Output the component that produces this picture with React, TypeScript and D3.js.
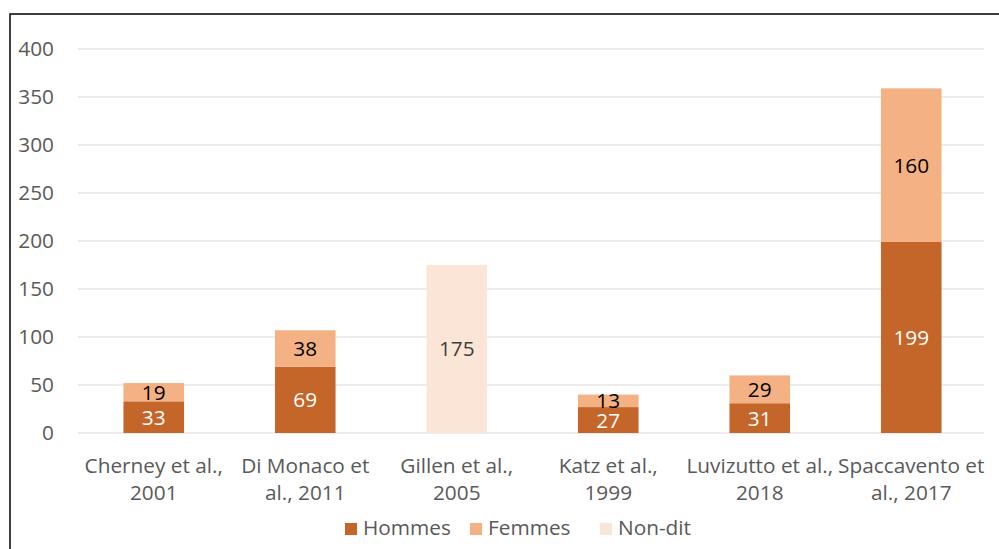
import * as d3 from "d3";

const WIDTH = 999;
const HEIGHT = 549;
const MARGIN = { top: 49, right: 12, bottom: 116, left: 78 };

const categories = [
  ["Cherney et al.,", "2001"],
  ["Di Monaco et", "al., 2011"],
  ["Gillen et al.,", "2005"],
  ["Katz et al.,", "1999"],
  ["Luvizutto et al.,", "2018"],
  ["Spaccavento et", "al., 2017"],
];
const hommes = [33, 69, 0, 27, 31, 199];
const femmes = [19, 38, 0, 13, 29, 160];
const nonDit = [0, 0, 175, 0, 0, 0];
const yTicks = [0, 50, 100, 150, 200, 250, 300, 350, 400];

const SERIES = [
  { name: "Hommes", values: hommes, color: "#C4652A", labelColor: "#FFFFFF" },
  { name: "Femmes", values: femmes, color: "#F4B183", labelColor: "#000000" },
  { name: "Non-dit", values: nonDit, color: "#FBE5D6", labelColor: "#404040" },
];

const FONT = "'Open Sans', sans-serif";
const FS = 20.8;

export default function App() {
  const boundsWidth = WIDTH - MARGIN.left - MARGIN.right;
  const boundsHeight = HEIGHT - MARGIN.top - MARGIN.bottom;

  const keys = categories.map((c) => c.join(" "));
  const xScale = d3.scaleBand().domain(keys).range([0, boundsWidth]).paddingInner(0.6).paddingOuter(0.3);
  const yScale = d3.scaleLinear().domain([0, 400]).range([boundsHeight, 0]);

  const rows = keys.map((k, i) => {
    const r: Record<string, number | string> = { key: k };
    SERIES.forEach((s) => (r[s.name] = s.values[i]));
    return r;
  });
  const stacked = d3.stack<any>().keys(SERIES.map((s) => s.name))(rows);

  return (
    <svg
      width={WIDTH}
      height={HEIGHT}
      style={{ position: "fixed", left: 0, top: 0, background: "#fff" }}
      fontFamily={FONT}
    >
      <rect x={10} y={14} width={1200} height={800} fill="white" stroke="#000" strokeWidth={1.5} />
      <g transform={`translate(${MARGIN.left},${MARGIN.top})`}>
        {yTicks.map((t) => (
          <g key={t}>
            <line x1={0} x2={boundsWidth - 3} y1={yScale(t)} y2={yScale(t)} stroke="#D9D9D9" strokeWidth={1.2} />
            <text x={-24} y={yScale(t)} dy="0.35em" textAnchor="end" fontSize={FS} fill="#595959">
              {t}
            </text>
          </g>
        ))}
        {stacked.map((layer, si) =>
          layer.map((d, i) => {
            const v = d[1] - d[0];
            if (!v) return null;
            const x = xScale(keys[i])!;
            const y0 = yScale(d[0]);
            const y1 = yScale(d[1]);
            return (
              <g key={`${si}-${i}`}>
                <rect x={x} width={xScale.bandwidth()} y={y1} height={y0 - y1} fill={SERIES[si].color} />
                <text
                  x={x + xScale.bandwidth() / 2}
                  y={(y0 + y1) / 2}
                  dy="0.36em"
                  textAnchor="middle"
                  fontSize={FS}
                  fill={SERIES[si].labelColor}
                >
                  {v}
                </text>
              </g>
            );
          })
        )}
        {categories.map((c, i) => (
          <text
            key={i}
            x={xScale(keys[i])! + xScale.bandwidth() / 2}
            y={boundsHeight + 40}
            textAnchor="middle"
            fontSize={FS}
            fill="#595959"
          >
            <tspan x={xScale(keys[i])! + xScale.bandwidth() / 2}>{c[0]}</tspan>
            <tspan x={xScale(keys[i])! + xScale.bandwidth() / 2} dy={27}>
              {c[1]}
            </tspan>
          </text>
        ))}
      </g>
      {SERIES.map((s, i) => {
        const xs = [345, 470, 600];
        return (
          <g key={s.name} transform={`translate(${xs[i]},523)`}>
            <rect width={12} height={12} fill={s.color} />
            <text x={18} y={12} fontSize={FS} fill="#595959">
              {s.name}
            </text>
          </g>
        );
      })}
    </svg>
  );
}
